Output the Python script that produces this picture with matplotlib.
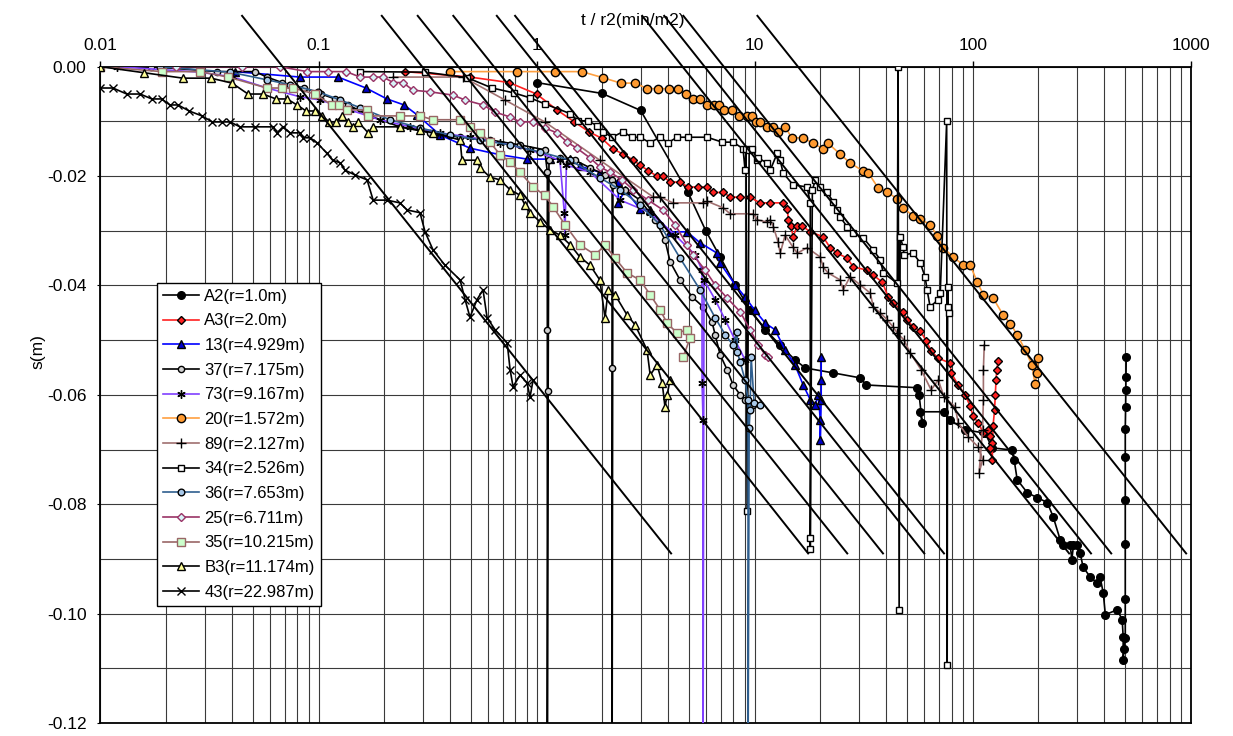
import matplotlib
matplotlib.use("Agg")
import matplotlib.pyplot as plt
from matplotlib.ticker import MultipleLocator, LogLocator, NullFormatter, FuncFormatter

plt.rcParams['font.family'] = ['Liberation Sans', 'DejaVu Sans']
plt.rcParams['axes.unicode_minus'] = False

# ---------------- data (t/r2 in min/m2, s in m) ----------------
A2_x = [1.00, 2.00, 3.00, 4.95, 5.97, 6.95, 8.14, 9.53, 11.2, 13.1, 15.3, 17.1, 23.0, 30.5, 32.5, 55.6, 56.8, 58.7, 57.5, 74.0,
        78.8, 92.3, 114, 123, 152, 155, 160, 178, 198, 220, 234, 252, 260, 280, 285, 290, 302, 311, 321, 346,
        372, 384, 397, 406, 460, 485, 490, 490, 495, 501, 501, 501, 501, 501, 501, 503, 504, 505, 506]
A2_s = [-0.0029, -0.0049, -0.0080, -0.0230, -0.0300, -0.0348, -0.0399, -0.0445, -0.0481, -0.0509,
        -0.0536, -0.0551, -0.0560, -0.0569, -0.0582, -0.0587, -0.0600, -0.0651, -0.0631, -0.0631,
        -0.0646, -0.0664, -0.0670, -0.0697, -0.0701, -0.0719, -0.0755, -0.0779, -0.0788, -0.0797,
        -0.0823, -0.0865, -0.0874, -0.0874, -0.0902, -0.0874, -0.0874, -0.0889, -0.0915, -0.0933,
        -0.0944, -0.0933, -0.0962, -0.1002, -0.0993, -0.1011, -0.1042, -0.1085, -0.1065, -0.1044,
        -0.0973, -0.0872, -0.0792, -0.0714, -0.0662, -0.0622, -0.0591, -0.0567, -0.0531]

A3_x = [0.249, 0.495, 0.748, 1.00, 1.24, 1.49, 1.74, 1.99, 2.24, 2.49, 2.76, 2.98, 3.25, 3.56, 3.80, 4.09, 4.55, 4.95, 5.50, 6.06,
        6.45, 7.17, 7.72, 8.58, 9.53, 10.6, 11.8, 13.5, 14.1, 14.3, 14.7, 15.0, 15.7, 16.5, 18.0, 20.6, 22.2, 23.9, 26.6, 28.3,
        32.8, 35.0, 38.5, 41.0, 43.2, 48.0, 50.1, 53.4, 57.5, 61.2, 64.5, 69.5, 78.8, 79.7, 85.8, 92.3, 97.3, 100.5, 106, 112,
        117, 120, 123, 120, 123, 124, 126, 127, 128, 129, 131]
A3_s = [-0.0009, -0.0019, -0.0029, -0.0050, -0.0079, -0.0101, -0.0119, -0.0131, -0.0150, -0.0160,
        -0.0170, -0.0180, -0.0190, -0.0200, -0.0200, -0.0211, -0.0211, -0.0220, -0.0220, -0.0220,
        -0.0230, -0.0230, -0.0238, -0.0239, -0.0239, -0.0249, -0.0249, -0.0249, -0.0260, -0.0280,
        -0.0291, -0.0311, -0.0291, -0.0291, -0.0302, -0.0311, -0.0331, -0.0341, -0.0350, -0.0366,
        -0.0372, -0.0381, -0.0394, -0.0421, -0.0432, -0.0448, -0.0463, -0.0476, -0.0483, -0.0501,
        -0.0520, -0.0533, -0.0542, -0.0560, -0.0582, -0.0600, -0.0620, -0.0639, -0.0651, -0.0670,
        -0.0664, -0.0675, -0.0688, -0.0697, -0.0719, -0.0657, -0.0628, -0.0600, -0.0573, -0.0554, -0.0538]

W13_x = [0.0414, 0.0822, 0.123, 0.165, 0.206, 0.247, 0.283, 0.361, 0.495, 0.680, 0.904, 1.15, 1.43, 1.58, 1.95, 2.37, 2.37, 2.55,
         2.98, 3.32, 4.10, 4.90, 5.62, 6.73, 6.95, 8.14, 9.04, 10.0, 11.2, 12.4, 13.8, 15.3, 16.7, 18.0, 19.0, 19.6, 20.0, 20.0,
         20.2, 20.2, 20.2]
W13_s = [-0.0009, -0.0019, -0.0019, -0.0039, -0.0059, -0.0070, -0.0088, -0.0125, -0.0149, -0.0161,
         -0.0169, -0.0169, -0.0169, -0.0182, -0.0193, -0.0211, -0.0249, -0.0225, -0.0260, -0.0262,
         -0.0302, -0.0302, -0.0322, -0.0341, -0.0359, -0.0399, -0.0421, -0.0445, -0.0469, -0.0481,
         -0.0518, -0.0545, -0.0582, -0.0609, -0.0618, -0.0600, -0.0646, -0.0682, -0.0609, -0.0573, -0.0531]

W37_x = [0.0171, 0.0342, 0.0511, 0.0580, 0.0680, 0.0858, 0.103, 0.119, 0.137, 0.172, 0.236, 0.325, 0.446, 0.612, 0.840,
         1.09, 1.12, 1.12, 1.12, 1.13, 1.14, 1.28, 1.50, 1.76, 2.06, 2.22, 2.22, 2.22, 2.24, 2.55, 2.98, 3.50, 3.88, 4.10,
         4.55, 5.17, 5.80, 6.38, 6.59, 6.95, 7.48, 7.97, 8.58, 9.04, 9.84]
W37_s = [0, -0.0009, -0.0009, -0.0019, -0.0029, -0.0039, -0.0050, -0.0059, -0.0070, -0.0090, -0.0110, -0.0121, -0.0129,
         -0.0134, -0.0143, -0.0152, -0.0193, -0.0481, -0.130, -0.0593, -0.0171, -0.0167, -0.0171, -0.0185, -0.0198,
         -0.0207, -0.0551, -0.130, -0.0216, -0.0225, -0.0244, -0.0280, -0.0317, -0.0357, -0.0390, -0.0421, -0.0439,
         -0.0467, -0.0490, -0.0527, -0.0554, -0.0582, -0.0600, -0.0609, -0.0618]

W73_x = [0.0119, 0.0286, 0.0405, 0.0580, 0.0822, 0.102, 0.139, 0.191, 0.263, 0.361, 0.495, 0.680, 0.933, 1.28, 1.34, 1.35,
         1.37, 1.76, 2.42, 3.32, 4.32, 5.34, 5.74, 5.74, 5.80, 5.80, 5.86, 6.59, 7.33, 8.14, 9.04]
W73_s = [0, -0.0010, -0.0019, -0.0039, -0.0055, -0.0061, -0.0079, -0.0097, -0.0110, -0.0121, -0.0129, -0.0139, -0.0152,
         -0.0171, -0.0267, -0.0308, -0.0180, -0.0193, -0.0244, -0.0267, -0.0308, -0.0344, -0.0372, -0.0578, -0.0646,
         -0.130, -0.0390, -0.0426, -0.0463, -0.0500, -0.0536]

W20_x = [0.40, 0.81, 1.22, 1.61, 2.01, 2.43, 2.83, 3.21, 3.61, 4.05, 4.44, 4.85, 5.21, 5.62, 6.06, 6.52, 6.87, 7.25, 7.86, 8.49,
         9.21, 9.71, 10.2, 10.6, 11.4, 12.2, 12.8, 13.8, 14.8, 16.7, 18.5, 20.6, 21.7, 24.7, 27.4, 31.5, 33.2, 36.9, 40.6, 45.1,
         48.0, 53.3, 57.4, 63.8, 68.7, 73.3, 81.5, 90.6, 97.5, 105, 112, 124, 138, 149, 160, 174, 187, 193, 197, 200]
W20_s = [-0.0009, -0.0009, -0.0009, -0.0009, -0.0020, -0.0030, -0.0030, -0.0040, -0.0040, -0.0040,
         -0.0040, -0.0050, -0.0059, -0.0059, -0.0070, -0.0070, -0.0070, -0.0080, -0.0080, -0.0090,
         -0.0090, -0.0090, -0.0101, -0.0101, -0.0110, -0.0110, -0.0119, -0.0110, -0.0130, -0.0130,
         -0.0140, -0.0150, -0.0140, -0.0160, -0.0176, -0.0191, -0.0194, -0.0222, -0.0229, -0.0242,
         -0.0258, -0.0273, -0.0278, -0.0289, -0.0309, -0.0331, -0.0348, -0.0363, -0.0363, -0.0394,
         -0.0417, -0.0423, -0.0454, -0.0470, -0.0490, -0.0518, -0.0545, -0.0580, -0.0560, -0.0532]

W89_x = [0.220, 0.460, 0.717, 1.09, 1.95, 3.42, 3.68, 4.22, 5.80, 6.05, 7.17, 7.72, 9.84, 10.3, 11.4, 11.8, 12.2, 12.8, 13.1, 13.8,
         15.0, 15.7, 17.4, 20.0, 20.6, 21.7, 24.7, 25.5, 27.4, 30.5, 33.9, 35.0, 37.7, 40.6, 43.2, 45.1, 48.5, 51.6, 58.0, 64.5,
         69.5, 74.0, 83.1, 85.8, 95.3, 106, 111, 107, 111, 112, 112, 113]
W89_s = [-0.0019, -0.0019, -0.0061, -0.0101, -0.0171, -0.0238, -0.0238, -0.0249, -0.0249, -0.0246,
         -0.0258, -0.0269, -0.0269, -0.0280, -0.0284, -0.0280, -0.0293, -0.0320, -0.0341, -0.0308,
         -0.0330, -0.0341, -0.0331, -0.0348, -0.0366, -0.0377, -0.0390, -0.0408, -0.0384, -0.0399,
         -0.0414, -0.0439, -0.0450, -0.0463, -0.0476, -0.0487, -0.0500, -0.0523, -0.0554, -0.0591,
         -0.0573, -0.0604, -0.0622, -0.0651, -0.0677, -0.0695, -0.0719, -0.0743, -0.0664, -0.0609, -0.0554, -0.0509]

W34_x = [0.155, 0.308, 0.480, 0.625, 0.788, 0.934, 1.09, 1.43, 1.55, 1.72, 1.90, 2.02, 2.22, 2.49, 2.74, 2.98, 3.31, 3.68, 4.01, 4.41,
         4.95, 6.06, 7.10, 7.97, 8.85, 9.04, 9.14, 9.24, 9.44, 9.74, 10.3, 10.4, 11.4, 11.8, 12.7, 13.1, 13.5, 15.0, 17.4, 18.0,
         18.0, 18.0, 18.4, 19.0, 20.0, 21.5, 22.9, 23.9, 24.7, 26.6, 28.3, 31.5, 35.0, 37.7, 38.9, 45.1, 45.5, 46.0, 46.5, 48.0,
         48.5, 53.4, 57.5, 60.5, 61.8, 63.8, 69.5, 71.0, 76.0, 76.4, 76.8, 77.2, 77.6]
W34_s = [-0.0009, -0.0010, -0.0020, -0.0039, -0.0048, -0.0057, -0.0068, -0.0086, -0.0099, -0.0099,
         -0.0108, -0.0119, -0.0129, -0.0119, -0.0129, -0.0129, -0.0139, -0.0129, -0.0139, -0.0129,
         -0.0129, -0.0129, -0.0138, -0.0138, -0.0150, -0.0189, -0.0150, -0.0812, -0.0152, -0.0150,
         -0.0171, -0.0167, -0.0176, -0.0189, -0.0158, -0.0171, -0.0194, -0.0216, -0.0220, -0.0249,
         -0.0862, -0.0882, -0.0225, -0.0207, -0.0220, -0.0229, -0.0247, -0.0262, -0.0275, -0.0293,
         -0.0304, -0.0313, -0.0335, -0.0353, -0.0377, -0.0396, 0.0, -0.0993, -0.0311, -0.0330,
         -0.0344, -0.0341, -0.0359, -0.0384, -0.0408, -0.0439, -0.0426, -0.0414, -0.0100, -0.1094,
         -0.0402, -0.0439, -0.0450]

W36_x = [0.0187, 0.0393, 0.0580, 0.0740, 0.0995, 0.126, 0.155, 0.213, 0.292, 0.401, 0.551, 0.756, 1.04, 1.43, 1.95, 2.42, 2.98,
         3.68, 4.55, 5.62, 6.59, 7.33, 7.97, 8.32, 8.32, 8.58, 9.04, 9.33, 9.33, 9.44, 9.53, 9.64, 9.95, 10.6]
W36_s = [0, -0.0010, -0.0024, -0.0033, -0.0046, -0.0061, -0.0075, -0.0097, -0.0112, -0.0125, -0.0134, -0.0143, -0.0156,
         -0.0171, -0.0203, -0.0225, -0.0253, -0.0289, -0.0350, -0.0408, -0.0459, -0.0490, -0.0509, -0.0485, -0.0521,
         -0.0540, -0.0573, -0.0609, -0.130, -0.0660, -0.0628, -0.0531, -0.0615, -0.0618]

W25_x = [0.0222, 0.0446, 0.0666, 0.0886, 0.111, 0.134, 0.155, 0.178, 0.198, 0.220, 0.244, 0.271, 0.325, 0.414, 0.470, 0.568,
         0.645, 0.756, 0.840, 0.964, 1.09, 1.24, 1.38, 1.53, 1.76, 1.95, 2.17, 2.47, 2.77, 3.25, 3.80, 4.32, 4.90, 5.22, 5.93,
         6.59, 7.48, 8.58, 9.53, 10.4, 11.2, 11.5]
W25_s = [0, 0, 0, -0.0009, -0.0009, -0.0009, -0.0019, -0.0019, -0.0019, -0.0029, -0.0029, -0.0043, -0.0046, -0.0052, -0.0061,
         -0.0070, -0.0083, -0.0092, -0.0101, -0.0101, -0.0112, -0.0121, -0.0138, -0.0149, -0.0167, -0.0183, -0.0193, -0.0207,
         -0.0225, -0.0244, -0.0262, -0.0289, -0.0326, -0.0344, -0.0372, -0.0399, -0.0423, -0.0448, -0.0481, -0.0509,
         -0.0527, -0.0531]

W35_x = [0.01, 0.0191, 0.0286, 0.0385, 0.0580, 0.0680, 0.0764, 0.0964, 0.115, 0.124, 0.135, 0.167, 0.169, 0.236, 0.292, 0.335,
         0.446, 0.495, 0.551, 0.612, 0.680, 0.756, 0.840, 0.964, 1.09, 1.19, 1.35, 1.58, 1.86, 2.06, 2.29, 2.60, 2.98, 3.32,
         3.69, 3.97, 4.41, 4.90, 5.06, 4.70]
W35_s = [0, -0.0009, -0.0009, -0.0019, -0.0039, -0.0039, -0.0039, -0.0050, -0.0070, -0.0070, -0.0079, -0.0079, -0.0090,
         -0.0090, -0.0090, -0.0097, -0.0097, -0.0110, -0.0121, -0.0138, -0.0161, -0.0174, -0.0193, -0.0220, -0.0235,
         -0.0256, -0.0289, -0.0326, -0.0344, -0.0326, -0.0350, -0.0377, -0.0390, -0.0417, -0.0445, -0.0469, -0.0487,
         -0.0481, -0.0496, -0.0531]

B3_x = [0.01, 0.0158, 0.0239, 0.0321, 0.0401, 0.0475, 0.0556, 0.0638, 0.0717, 0.0797, 0.0877, 0.0964, 0.104, 0.112, 0.120,
        0.128, 0.137, 0.144, 0.152, 0.169, 0.178, 0.236, 0.292, 0.335, 0.446, 0.455, 0.533, 0.551, 0.612, 0.680, 0.756,
        0.840, 0.885, 0.934, 1.04, 1.15, 1.28, 1.43, 1.58, 1.76, 1.95, 2.06, 2.13, 2.29, 2.60, 2.83, 3.21, 3.32, 3.57, 3.77,
        3.88, 3.97, 4.09]
B3_s = [0, -0.0011, -0.0021, -0.0021, -0.0030, -0.0050, -0.0050, -0.0059, -0.0059, -0.0070, -0.0081, -0.0081, -0.0090,
        -0.0101, -0.0101, -0.0090, -0.0101, -0.0110, -0.0101, -0.0121, -0.0110, -0.0110, -0.0116, -0.0121, -0.0134,
        -0.0171, -0.0171, -0.0185, -0.0202, -0.0207, -0.0225, -0.0235, -0.0253, -0.0267, -0.0284, -0.0298, -0.0308,
        -0.0326, -0.0348, -0.0363, -0.0390, -0.0459, -0.0408, -0.0417, -0.0454, -0.0472, -0.0518, -0.0564, -0.0545,
        -0.0579, -0.0622, -0.0600, -0.0573]

W43_x = [0.01, 0.0114, 0.0132, 0.0152, 0.0172, 0.0191, 0.0208, 0.0227, 0.0255, 0.0292, 0.0325, 0.0361, 0.0393, 0.0436,
         0.0511, 0.0618, 0.0645, 0.0687, 0.0740, 0.0822, 0.0849, 0.0914, 0.0984, 0.109, 0.116, 0.126, 0.132, 0.147, 0.167,
         0.178, 0.206, 0.236, 0.255, 0.292, 0.308, 0.335, 0.380, 0.446, 0.470, 0.495, 0.533, 0.568, 0.593, 0.645, 0.733,
         0.756, 0.780, 0.840, 0.904, 0.933, 0.964]
W43_s = [-0.0039, -0.0039, -0.0050, -0.0050, -0.0059, -0.0059, -0.0070, -0.0070, -0.0081, -0.0090, -0.0101, -0.0101,
         -0.0101, -0.0110, -0.0110, -0.0110, -0.0121, -0.0110, -0.0121, -0.0121, -0.0130, -0.0130, -0.0139, -0.0158,
         -0.0171, -0.0176, -0.0189, -0.0198, -0.0207, -0.0244, -0.0244, -0.0249, -0.0262, -0.0267, -0.0302, -0.0335,
         -0.0363, -0.0390, -0.0426, -0.0458, -0.0426, -0.0408, -0.0459, -0.0481, -0.0505, -0.0554, -0.0585, -0.0564,
         -0.0578, -0.0604, -0.0573]

# straight (semi-log) fitting lines: start / end t/r2 and drawdown at both ends
line_t_start = [0.0446, 0.195, 0.285, 0.415, 0.657, 0.797, 3.05, 3.85, 4.71, 10.3]
line_t_end = [4.14, 17.6, 26.6, 38.8, 60.0, 73.9, 277, 349, 432, 953]
line_s_start = 0.0093
line_s_end = -0.0890

labels = ['A2(r=1.0m)', 'A3(r=2.0m)', '13(r=4.929m)', '37(r=7.175m)', '73(r=9.167m)', '20(r=1.572m)',
          '89(r=2.127m)', '34(r=2.526m)', '36(r=7.653m)', '25(r=6.711m)', '35(r=10.215m)', 'B3(r=11.174m)',
          '43(r=22.987m)']
xs = [A2_x, A3_x, W13_x, W37_x, W73_x, W20_x, W89_x, W34_x, W36_x, W25_x, W35_x, B3_x, W43_x]
ss = [A2_s, A3_s, W13_s, W37_s, W73_s, W20_s, W89_s, W34_s, W36_s, W25_s, W35_s, B3_s, W43_s]

styles = [
    dict(color='black', marker='o', ms=5.5, mfc='black', mec='black'),
    dict(color='#FF2020', marker='D', ms=3.8, mfc='#FF2020', mec='black'),
    dict(color='#0000FF', marker='^', ms=5.5, mfc='#0000CC', mec='black'),
    dict(color='black', marker='o', ms=4.5, mfc='#D0D0D0', mec='black'),
    dict(color='#8040FF', marker=(6, 2, 0), ms=6, mfc='black', mec='black'),
    dict(color='#FFA040', marker='o', ms=6, mfc='#FF9A30', mec='black'),
    dict(color='#A07070', marker='+', ms=6.5, mfc='black', mec='black'),
    dict(color='black', marker='s', ms=5, mfc='white', mec='black'),
    dict(color='#2F5F8F', marker='o', ms=4.8, mfc='#A8C8E8', mec='black'),
    dict(color='#993366', marker='D', ms=4.5, mfc='#D8F4F8', mec='#993366'),
    dict(color='#996666', marker='s', ms=6, mfc='#CCFFCC', mec='#996666'),
    dict(color='black', marker='^', ms=5.5, mfc='#FFFF99', mec='black'),
    dict(color='black', marker='x', ms=6, mfc='black', mec='black'),
]

fig = plt.figure(figsize=(12.33, 7.36), dpi=100)
ax = fig.add_axes([0.0815, 0.0177, 0.8842, 0.8917])
ax.set_xscale('log')
ax.set_xlim(0.01, 1000)
ax.set_ylim(-0.12, 0.0)

for lab, x, s, st in zip(labels, xs, ss, styles):
    ax.plot(x, s, label=lab, lw=1.2, mew=1.0, zorder=3, **st)

for t0, t1 in zip(line_t_start, line_t_end):
    ax.plot([t0, t1], [line_s_start, line_s_end], color='black', lw=1.4, clip_on=False, zorder=4)

# grid / ticks
ax.xaxis.set_major_locator(LogLocator(base=10, numticks=10))
ax.xaxis.set_minor_locator(LogLocator(base=10, subs=range(2, 10), numticks=20))
ax.xaxis.set_minor_formatter(NullFormatter())
ax.xaxis.set_major_formatter(FuncFormatter(lambda v, p: ('%g' % v)))
ax.yaxis.set_major_locator(MultipleLocator(0.02))
ax.yaxis.set_minor_locator(MultipleLocator(0.01))
ax.yaxis.set_major_formatter(FuncFormatter(lambda v, p: '%.2f' % v if abs(v) > 1e-9 else '0.00'))
ax.grid(True, which='both', color='#3a3a3a', lw=0.8)
ax.set_axisbelow(True)
ax.tick_params(axis='x', which='both', top=True, bottom=False, labeltop=True, labelbottom=False,
               direction='out', length=4, pad=6, labelsize=12.5, width=1)
ax.tick_params(axis='x', which='minor', length=0)
ax.tick_params(axis='y', which='both', left=True, direction='out', length=2, pad=8, labelsize=12.5)
ax.tick_params(axis='y', which='minor', length=0)
for sp in ax.spines.values():
    sp.set_color('black')
    sp.set_linewidth(1.3)

fig.text(633 / 1233, 1 - 20 / 736, 't / r2(min/m2)', ha='center', va='center', fontsize=12.5)
fig.text(38 / 1233, 1 - 352 / 736, 's(m)', ha='center', va='center', rotation=90, fontsize=12.5)

leg = ax.legend(loc='upper left', bbox_to_anchor=(0.0518, 0.6704), fontsize=12, frameon=True,
                fancybox=False, edgecolor='black', framealpha=1, borderpad=0.35, labelspacing=0.58,
                handlelength=2.2, handletextpad=0.3, borderaxespad=0)
leg.get_frame().set_linewidth(1.0)
leg.set_zorder(10)

fig.savefig('out.png', dpi=100)
